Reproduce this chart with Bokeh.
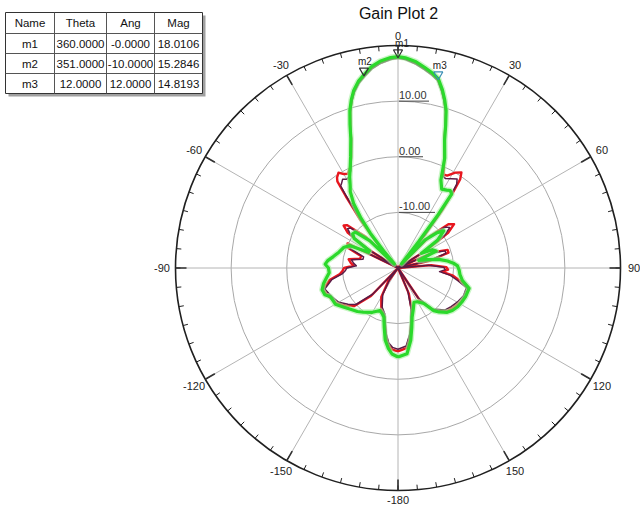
import numpy as np
from bokeh.plotting import figure
from bokeh.models import Range1d
from bokeh.embed import file_html
from bokeh.resources import INLINE
from bokeh.core.properties import value

# ---------------- data ----------------
title_text = "Gain Plot 2"
center_db = -20.0
outer_db = 20.0
ring_db = [-10.0, 0.0, 10.0]
ring_labels = ["-10.00", "0.00", "10.00"]
angle_ticks = [-180, -150, -120, -90, -60, -30, 0, 30, 60, 90, 120, 150]
angle_tick_labels = ["-180", "-150", "-120", "-90", "-60", "-30", "0", "30", "60", "90", "120", "150"]

table_header = ["Name", "Theta", "Ang", "Mag"]
marker_names = ["m1", "m2", "m3"]
marker_theta = [360.0, 351.0, 12.0]
marker_ang = [-0.0, -10.0, 12.0]
marker_mag = [18.0106, 15.2846, 14.8193]

green_theta = [-180, -176, -173, -170, -167, -164, -161, -157, -150, -142, -137, -131, -126, -120,
               -113, -110, -106, -102, -98, -94, -90, -87, -84, -80, -75, -69, -65, -62, -59, -56,
               -53, -50, -46, -42, -40, -38.5, -36.5, -34.5, -32, -30, -28, -25, -23, -20, -18.5,
               -17, -15.5, -14, -12, -10, -7.5, -5, -2, 0, 2, 5, 7.5, 10, 12, 14, 15.5, 17, 18.5,
               20, 23, 26, 29, 32, 34, 36, 37, 38, 40, 44, 48, 51, 55, 58, 62, 66, 70, 74, 78, 82,
               85, 88, 92, 96, 101, 106, 113, 118, 123, 128, 132, 137, 140, 144, 150, 155, 160,
               164, 167, 170, 174, 180]
green_db = [-4.0, -4.5, -5.5, -6.8, -9.0, -10.8, -11.3, -11.7, -10.8, -9.9, -9.3, -8.7, -8.0, -7.0,
            -6.8, -6.0, -5.8, -6.3, -7.0, -7.6, -7.5, -6.9, -7.3, -8.2, -9.0, -9.6, -10.5, -14.0,
            -14.0, -10.5, -9.8, -10.0, -13.0, -19.0, -16.0, -12.0, -8.7, -5.9, -3.8, -2.8, -1.5,
            0.3, 1.8, 4.8, 7.2, 9.6, 11.4, 12.9, 14.3, 15.28, 16.5, 17.3, 17.85, 18.01, 17.8,
            17.2, 16.4, 15.6, 14.82, 13.0, 11.4, 9.6, 7.0, 4.5, 1.5, -2.4, -3.8, -3.5, -3.2,
            -3.6, -8.0, -14.0, -19.0, -13.0, -10.5, -9.4, -11.4, -15.0, -13.0, -12.5, -16.0,
            -14.5, -12.5, -11.0, -10.0, -9.3, -9.0, -8.8, -8.2, -6.7, -6.8, -7.0, -7.2, -7.6,
            -8.1, -9.2, -10.0, -12.1, -13.0, -13.2, -12.0, -10.8, -9.0, -6.8, -4.5, -4.0]

red_theta = [-180, -176, -173, -170, -167, -164, -158, -150, -144, -140, -136, -131, -126, -120,
             -113, -106, -100, -96, -93, -90, -87, -84, -80, -76, -72, -68, -64, -61, -58, -55,
             -52, -50, -46, -42, -40, -38, -36, -35, -34, -32, -30, -28, -25.7, -23, -20, -18.5,
             -17, -15.5, -14, -12, -10, -7.5, -5, -2, 0, 2, 5, 7.5, 10, 12, 14, 15.5, 17, 18.5,
             20, 23, 26, 28, 31, 33.6, 35, 36, 37.5, 39, 41, 45, 49, 52, 55, 58, 62, 66, 70, 73,
             77, 81, 85, 89, 92, 95, 98, 102, 106, 113, 120, 126, 132, 140, 146, 152, 157, 162,
             166, 170, 174, 180]
red_db = [-5.0, -5.3, -6.0, -7.5, -9.5, -11.0, -12.0, -14.0, -17.0, -20.0, -13.0, -9.6, -8.5,
          -7.3, -6.6, -5.9, -7.5, -9.5, -10.0, -10.3, -12.0, -11.5, -11.0, -13.0, -13.0, -10.2,
          -9.9, -20.0, -14.0, -9.0, -7.6, -8.0, -12.0, -20.0, -14.0, -9.0, -4.0, -1.0, -0.4,
          0.2, -0.5, -0.8, -0.1, 1.6, 4.6, 7.0, 9.4, 11.2, 12.7, 14.1, 15.1, 16.3, 17.1, 17.7,
          17.9, 17.7, 17.0, 16.2, 15.4, 14.6, 12.8, 11.2, 9.4, 6.8, 4.3, 1.3, -1.3, -1.2, 0.0,
          0.6, -0.5, -3.0, -7.0, -12.0, -20.0, -12.0, -8.0, -7.2, -9.0, -14.0, -20.0, -13.0,
          -10.5, -10.5, -14.0, -20.0, -14.0, -11.3, -11.0, -12.0, -10.0, -8.5, -6.8, -6.8, -7.3,
          -7.8, -8.3, -10.0, -13.0, -20.0, -15.0, -12.0, -10.0, -7.5, -5.5, -5.0]

purple_theta = [-180, -176, -173, -170, -167, -164, -158, -150, -144, -140, -136, -131, -126, -120,
                -113, -106, -100, -96, -93, -90, -87, -84, -80, -76, -72, -68, -64, -61, -58, -55,
                -52, -50, -46, -42, -40, -38, -36, -35, -34, -32, -30, -28, -25.7, -23, -20, -18.5,
                -17, -15.5, -14, -12, -10, -7.5, -5, -2, 0, 2, 5, 7.5, 10, 12, 14, 15.5, 17, 18.5,
                20, 23, 26, 28, 31, 33.6, 35, 36, 37.5, 39, 41, 45, 49, 52, 55, 58, 62, 66, 70, 73,
                77, 81, 85, 89, 92, 95, 98, 102, 106, 113, 120, 126, 132, 140, 146, 152, 157, 162,
                166, 170, 174, 180]
purple_db = [-5.4, -5.7, -6.4, -7.9, -9.9, -11.4, -12.4, -14.5, -17.5, -20.0, -13.5, -10.0, -8.9,
             -7.7, -7.0, -6.3, -7.9, -9.9, -10.5, -10.8, -12.5, -12.0, -11.5, -13.5, -13.5, -10.7,
             -10.4, -20.0, -14.5, -9.6, -8.5, -8.8, -12.6, -20.0, -14.5, -9.6, -4.8, -2.0, -1.8,
             -1.2, -1.6, -1.3, -0.5, 1.4, 4.4, 6.8, 9.2, 11.0, 12.5, 13.9, 14.9, 16.1, 16.9, 17.5,
             17.7, 17.5, 16.8, 16.0, 15.2, 14.4, 12.6, 11.0, 9.2, 6.6, 4.1, 1.1, -1.6, -1.8, -1.3,
             -0.8, -1.6, -3.8, -7.6, -12.5, -20.0, -12.6, -8.8, -8.2, -9.8, -14.5, -20.0, -13.5,
             -11.0, -11.0, -14.5, -20.0, -14.5, -11.8, -11.5, -12.5, -10.5, -9.0, -7.2, -7.2, -7.7,
             -8.2, -8.7, -10.4, -13.5, -20.0, -15.5, -12.5, -10.4, -7.9, -5.9, -5.4]

# ---------------- layout ----------------
W, H = 640, 514
CX, CY = 397.5, 267.5          # picture position of polar centre
R_OUT_PX = 222.5               # outer ring radius in px
K = R_OUT_PX / (outer_db - center_db)   # px per dB unit


def pxy(sx, sy):
    """picture pixel -> data coordinates"""
    return (sx - CX) / K, (CY - sy) / K


x0, y1 = pxy(0, 0)
x1, y0 = pxy(W, H)

p = figure(width=W, height=H, output_backend="svg", toolbar_location=None,
           x_range=Range1d(x0, x1), y_range=Range1d(y0, y1),
           x_axis_location=None, y_axis_location=None, min_border=0)
p.grid.visible = False
p.outline_line_color = None
p.background_fill_color = "white"
p.border_fill_color = "white"

FONT = value("Liberation Sans")
R_out = outer_db - center_db


def polar_xy(theta_deg, db):
    t = np.radians(np.asarray(theta_deg, dtype=float))
    r = np.clip(np.asarray(db, dtype=float) - center_db, 0, None)
    return r * np.sin(t), r * np.cos(t)


# grid rings
for d in ring_db:
    p.circle(x=0, y=0, radius=d - center_db, fill_color=None, line_color="#a8a8a8", line_width=1)

# spokes
sp = np.radians(np.arange(0, 360, 30))
p.segment(x0=np.zeros(len(sp)), y0=np.zeros(len(sp)), x1=R_out * np.sin(sp), y1=R_out * np.cos(sp),
          line_color="#b4b4b4", line_width=1)

# outer circle
p.circle(x=0, y=0, radius=R_out, fill_color=None, line_color="#202020", line_width=1.6)

# ticks every 5 deg
tk = np.radians(np.arange(0, 360, 5))
tl = 5.0 / K
p.segment(x0=R_out * np.sin(tk), y0=R_out * np.cos(tk), x1=(R_out - tl) * np.sin(tk),
          y1=(R_out - tl) * np.cos(tk), line_color="#202020", line_width=1)
mk = np.radians(np.arange(0, 360, 30))
ml = 11.0 / K
p.segment(x0=R_out * np.sin(mk), y0=R_out * np.cos(mk), x1=(R_out - ml) * np.sin(mk),
          y1=(R_out - ml) * np.cos(mk), line_color="#303030", line_width=1.6)

# angle labels
at = np.radians(np.array(angle_ticks, dtype=float))
rl = np.array([(232 + 4 * abs(np.sin(a))) / K for a in at])
p.text(x=rl * np.sin(at), y=rl * np.cos(at), text=angle_tick_labels, text_align="center",
       text_baseline="middle", text_font=FONT, text_font_size="11px", text_color="#222222")

# ring labels (placed just above the ring on the vertical axis)
rlx = np.full(len(ring_db), 1.0 / K)
rly = np.array([d - center_db for d in ring_db]) + 2.0 / K
p.text(x=rlx, y=rly, text=ring_labels, text_align="left", text_baseline="bottom",
       text_font=FONT, text_font_size="11px", text_color="#333333")
p.segment(x0=rlx, y0=rly - 2.0 / K, x1=rlx + np.array([36, 24, 30]) / K, y1=rly - 2.0 / K,
          line_color="#444444", line_width=1)

# curves
gx, gy = polar_xy(green_theta, green_db)
rx, ry = polar_xy(red_theta, red_db)
qx, qy = polar_xy(purple_theta, purple_db)
p.line(rx, ry, line_color="#e8161e", line_width=2.4, line_join="round")
p.line(qx, qy, line_color="#5c1a45", line_width=1.5, line_join="round")
p.line(gx, gy, line_color="#a6f0a0", line_width=6, line_alpha=0.6, line_join="round")
p.line(gx, gy, line_color="#2bd92b", line_width=3.2, line_join="round")

# markers
mx, my = polar_xy(marker_ang, marker_mag)
off = 4.0 / K
p.scatter(mx, my + off, marker="inverted_triangle", size=9, fill_color=None,
          line_color=["#333333", "#333333", "#3a8fb5"], line_width=1.2)
p.text(mx + np.array([4.0, 1.0, 1.5]) / K, my + off + 9.0 / K, text=marker_names, text_align="center",
       text_baseline="middle", text_font=FONT, text_font_size="10px", text_color="#222222")

# title
tx, ty = pxy(398, 13)
p.text(x=[tx], y=[ty], text=[title_text], text_align="center", text_baseline="middle",
       text_font=FONT, text_font_size="16px", text_color="#111111")

# marker table
col_edges = [5, 54, 106, 154, 202]
row_edges = [12, 33, 53, 73, 93]
sl, st = pxy(col_edges[0] + 3, row_edges[0] + 3)
sr, sb = pxy(col_edges[-1] + 3, row_edges[-1] + 3)
p.quad(left=[sl], right=[sr], top=[st], bottom=[sb], fill_color="#a0a0a0", line_color=None)
tl_, tt_ = pxy(col_edges[0], row_edges[0])
tr_, tb_ = pxy(col_edges[-1], row_edges[-1])
p.quad(left=[tl_], right=[tr_], top=[tt_], bottom=[tb_], fill_color="white", line_color="#333333",
       line_width=1)
for ce in col_edges[1:-1]:
    a = pxy(ce, row_edges[0]); b = pxy(ce, row_edges[-1])
    p.segment(x0=[a[0]], y0=[a[1]], x1=[b[0]], y1=[b[1]], line_color="#555555", line_width=1)
for re_ in row_edges[1:-1]:
    a = pxy(col_edges[0], re_); b = pxy(col_edges[-1], re_)
    p.segment(x0=[a[0]], y0=[a[1]], x1=[b[0]], y1=[b[1]], line_color="#555555", line_width=1)

rows = [table_header] + [[n, f"{t:.4f}", f"{a:.4f}", f"{m:.4f}"]
                         for n, t, a, m in zip(marker_names, marker_theta, marker_ang, marker_mag)]
txs, tys, tts = [], [], []
for ri, row in enumerate(rows):
    for ci, cell in enumerate(row):
        cxp = (col_edges[ci] + col_edges[ci + 1]) / 2
        cyp = (row_edges[ri] + row_edges[ri + 1]) / 2
        dx, dy = pxy(cxp, cyp)
        txs.append(dx); tys.append(dy); tts.append(cell)
p.text(x=txs, y=tys, text=tts, text_align="center", text_baseline="middle", text_font=FONT,
       text_font_size="11.5px", text_color="#111111")

open("out.html", "w").write(file_html(p, INLINE))
